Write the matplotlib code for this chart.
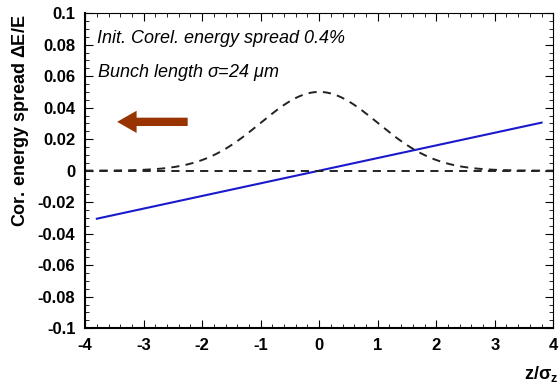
import numpy as np
import matplotlib
matplotlib.use("Agg")
import matplotlib.pyplot as plt
from matplotlib.ticker import MultipleLocator

plt.rcParams['font.family'] = ['Liberation Sans', 'DejaVu Sans']
plt.rcParams['axes.unicode_minus'] = False
plt.rcParams['mathtext.fontset'] = 'custom'
plt.rcParams['mathtext.rm'] = 'Liberation Sans'
plt.rcParams['mathtext.bf'] = 'Liberation Sans:bold'

# correlated energy spread along the bunch
z_line = [-3.8, 3.8]
dE_line = [-0.0305, 0.0305]

# bunch profile (gaussian, peak 0.05)
z_prof = np.linspace(-4, 4, 401)
peak = 0.05
sigma = 1.0
profile = peak * np.exp(-z_prof**2 / (2 * sigma**2))

xticks = [-4, -3, -2, -1, 0, 1, 2, 3, 4]
yticks = [-0.1, -0.08, -0.06, -0.04, -0.02, 0, 0.02, 0.04, 0.06, 0.08, 0.1]
ytick_labels = ['-0.1', '-0.08', '-0.06', '-0.04', '-0.02', '0', '0.02', '0.04', '0.06', '0.08', '0.1']

fig = plt.figure(figsize=(5.6, 3.87), dpi=100)
ax = fig.add_axes([0.152, 0.152, 0.836, 0.814])

ax.plot(z_line, dE_line, color='#1a1acc', lw=1.5)
ax.plot(z_prof, profile, color='#222222', lw=1.4, ls=(0, (4.2, 3.2)))
ax.plot([-4, 4], [0, 0], color='#222222', lw=1.4, ls=(0, (4.2, 3.2)))

ax.annotate('', xy=(-3.5, 0.031), xytext=(-2.2, 0.031),
            arrowprops=dict(arrowstyle='simple,head_length=1.4,head_width=1.6,tail_width=0.6',
                            color='#993300', lw=0))

ax.text(-3.8, 0.081, 'Init. Corel. energy spread 0.4%', fontsize=13, style='italic')
ax.text(-3.8, 0.0595, r'Bunch length $\mathregular{\sigma}$=24 $\mathregular{\mu}$m', fontsize=13, style='italic')

ax.set_xlim(-4, 4)
ax.set_ylim(-0.1, 0.1)
ax.set_xticks(xticks)
ax.set_yticks(yticks)
ax.set_yticklabels(ytick_labels)
ax.xaxis.set_minor_locator(MultipleLocator(0.2))
ax.yaxis.set_minor_locator(MultipleLocator(0.005))
ax.tick_params(which='both', direction='in', top=True, right=True)
ax.tick_params(which='major', length=6, width=0.8, labelsize=12, pad=7)
ax.tick_params(which='minor', length=3, width=0.6)
for lab in ax.get_xticklabels() + ax.get_yticklabels():
    lab.set_fontweight('bold')
ax.spines['left'].set_linewidth(1.5)
ax.spines['bottom'].set_linewidth(1.5)
ax.spines['top'].set_linewidth(0.8)
ax.spines['right'].set_linewidth(0.8)

fig.text(0.036, 0.687, r'Cor. energy spread $\mathregular{\Delta}$E/E', fontsize=13,
         fontweight='bold', rotation=90, ha='center', va='center')
fig.text(0.997, 0.02, r'z/$\mathbf{\sigma_z}$', fontsize=13, fontweight='bold', ha='right')

fig.savefig('out.png', dpi=100)
